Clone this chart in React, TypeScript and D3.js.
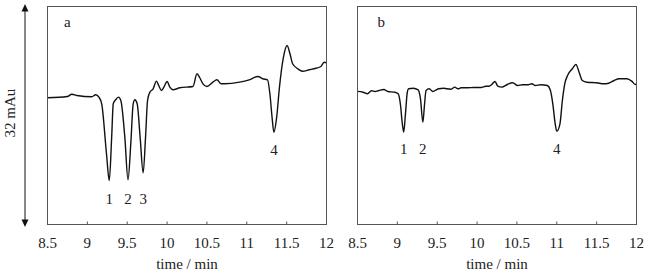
import React from "react";
import * as d3 from "d3";

const tickValues = [8.5, 9, 9.5, 10, 10.5, 11, 11.5, 12];
const tickLabels = ["8.5", "9", "9.5", "10", "10.5", "11", "11.5", "12"];
const xLabel = "time / min";
const yLabel = "32 mAu";

// panel a trace: time (min), signal (mAu)
const timeA = [8.5, 8.75, 8.805, 8.87, 9.055, 9.105, 9.145, 9.18, 9.24, 9.275, 9.305, 9.325, 9.355, 9.39, 9.42, 9.47, 9.51, 9.545, 9.575, 9.596, 9.625, 9.662, 9.7, 9.73, 9.755, 9.784, 9.825, 9.867, 9.895, 9.93, 9.96, 10.0, 10.035, 10.075, 10.16, 10.325, 10.375, 10.41, 10.45, 10.5, 10.575, 10.625, 10.68, 10.72, 10.91, 11.03, 11.14, 11.2, 11.26, 11.29, 11.317, 11.34, 11.375, 11.41, 11.46, 11.505, 11.542, 11.575, 11.64, 11.7, 11.784, 11.868, 11.93, 11.97, 12.0];
const signalA = [18.6, 18.79, 19.13, 18.94, 18.75, 19.04, 18.69, 17.72, 10.38, 6.46, 12.82, 17.72, 18.31, 18.69, 18.2, 12.82, 6.56, 11.89, 17.72, 18.31, 17.72, 12.82, 7.59, 12.82, 18.2, 19.42, 19.92, 21.04, 20.41, 19.67, 20.16, 20.99, 20.16, 19.77, 20.07, 20.26, 22.12, 21.54, 20.65, 20.26, 20.89, 21.24, 20.65, 20.65, 20.89, 21.24, 21.73, 21.39, 21.24, 19.19, 15.75, 13.55, 15.75, 20.16, 24.56, 26.28, 25.06, 23.59, 22.86, 22.5, 22.71, 22.94, 23.19, 23.82, 23.74];

// panel b trace
const timeB = [8.5, 8.57, 8.625, 8.675, 8.72, 8.77, 8.83, 8.88, 8.97, 9.01, 9.04, 9.06, 9.08, 9.1, 9.125, 9.14, 9.2, 9.26, 9.29, 9.32, 9.34, 9.36, 9.4, 9.445, 9.48, 9.52, 9.58, 9.62, 9.67, 9.72, 9.76, 9.8, 9.88, 9.96, 10.05, 10.11, 10.15, 10.18, 10.225, 10.26, 10.31, 10.38, 10.445, 10.51, 10.57, 10.63, 10.69, 10.73, 10.8, 10.88, 10.92, 10.95, 10.98, 11.0, 11.04, 11.07, 11.1, 11.135, 11.195, 11.24, 11.28, 11.32, 11.38, 11.5, 11.59, 11.65, 11.72, 11.78, 11.88, 11.94, 11.985, 12.0];
const signalB = [19.54, 19.42, 19.19, 19.63, 19.52, 19.67, 19.82, 19.52, 19.42, 19.19, 17.47, 15.02, 13.55, 16.0, 19.42, 19.92, 20.01, 19.77, 18.45, 15.02, 17.5, 19.67, 19.92, 19.52, 19.72, 19.92, 20.01, 19.92, 19.86, 20.16, 19.92, 20.07, 20.07, 20.11, 20.11, 20.3, 20.3, 20.51, 20.99, 20.3, 20.16, 20.55, 20.8, 20.4, 20.51, 20.51, 20.65, 20.4, 20.51, 20.4, 19.67, 17.72, 14.78, 13.7, 14.78, 18.2, 20.65, 21.87, 22.86, 23.49, 22.36, 21.14, 20.89, 20.8, 20.65, 20.74, 21.14, 21.39, 21.39, 21.04, 20.55, 20.65];

// peak labels
const peakLabelsA = ["1", "2", "3", "4"];
const peakTimesA = [9.275, 9.51, 9.7, 11.34];
const peakLabelYA = [3.0, 3.0, 3.0, 10.2];
const peakLabelsB = ["1", "2", "4"];
const peakTimesB = [9.08, 9.32, 11.0];
const peakLabelYB = [10.35, 10.35, 10.35];

const panelNames = ["a", "b"];

const W = 650;
const H = 275;
const top = 6.5;
const bottom = 224.5;
const panelLefts = [47.5, 357.5];
const panelWidth = 279;
const FONT = "'Liberation Serif', 'Times New Roman', serif";
const FS = 15;

function Panel({ idx, times, signal, labels, ltimes, ly }) {
  const left = panelLefts[idx];
  const x = d3.scaleLinear().domain([8.5, 12]).range([left, left + panelWidth]);
  const y = d3.scaleLinear().domain([0, 32]).range([bottom, top]);
  const pts = times.map((t, i) => [t, signal[i]]);
  const line = d3
    .line()
    .x((d) => x(d[0]))
    .y((d) => y(d[1]))
    .curve(d3.curveMonotoneX);
  return (
    <g>
      <path d={line(pts) || ""} fill="none" stroke="#111" strokeWidth={1.4} />
      <rect x={left} y={top} width={panelWidth} height={bottom - top} fill="none" stroke="#555" strokeWidth={1} />
      {tickValues.map((v, i) => (
        <g key={i}>
          <line x1={x(v)} x2={x(v)} y1={bottom} y2={bottom - 3} stroke="#555" strokeWidth={1} />
          <text x={x(v)} y={248.3} textAnchor="middle" fontFamily={FONT} fontSize={FS} fill="#222">
            {tickLabels[i]}
          </text>
        </g>
      ))}
      <text x={left + panelWidth / 2} y={268.5} textAnchor="middle" fontFamily={FONT} fontSize={FS} fill="#222">
        {xLabel}
      </text>
      <text x={idx === 0 ? 64 : 377.5} y={26.5} textAnchor="start" fontFamily={FONT} fontSize={FS} fill="#222">
        {panelNames[idx]}
      </text>
      {labels.map((l, i) => (
        <text key={i} x={x(ltimes[i])} y={y(ly[i])} textAnchor="middle" fontFamily={FONT} fontSize={FS} fill="#222">
          {l}
        </text>
      ))}
    </g>
  );
}

export default function App() {
  return (
    <div style={{ position: "fixed", left: 0, top: 0, width: W, height: H, background: "#fff" }}>
      <svg width={W} height={H} viewBox={`0 0 ${W} ${H}`}>
        <rect x={0} y={0} width={W} height={H} fill="#fff" />
        <line x1={25} x2={25} y1={10} y2={221} stroke="#111" strokeWidth={1} />
        <path d="M25,4 L21.5,11.5 L28.5,11.5 Z" fill="#111" />
        <path d="M25,227 L21.5,219.5 L28.5,219.5 Z" fill="#111" />
        <text
          x={0}
          y={0}
          transform="translate(14.5,113) rotate(-90)"
          textAnchor="middle"
          fontFamily={FONT}
          fontSize={FS}
          fill="#222"
        >
          {yLabel}
        </text>
        <Panel idx={0} times={timeA} signal={signalA} labels={peakLabelsA} ltimes={peakTimesA} ly={peakLabelYA} />
        <Panel idx={1} times={timeB} signal={signalB} labels={peakLabelsB} ltimes={peakTimesB} ly={peakLabelYB} />
      </svg>
    </div>
  );
}
